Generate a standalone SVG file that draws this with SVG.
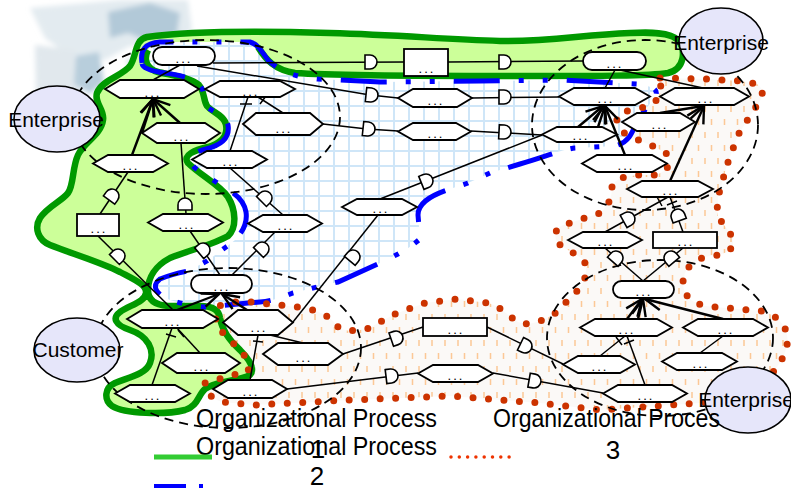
<svg xmlns="http://www.w3.org/2000/svg" width="791" height="489" viewBox="0 0 791 489">
<style>
.n{fill:#fff;stroke:#000;stroke-width:1.8}
.c{fill:none;stroke:#000;stroke-width:1.5}
.a{fill:none;stroke:#000;stroke-width:2.4;marker-end:url(#arr)}
.g{fill:#fff;stroke:#000;stroke-width:1.6}
.dl{fill:none;stroke:#000;stroke-width:1.8;stroke-dasharray:9 6}
.d{font-family:"Liberation Sans",Arial,sans-serif;font-size:13px;letter-spacing:2px;text-anchor:middle;fill:#000}
.ent{fill:#e6e6fa;stroke:#000;stroke-width:1.6}
.lbl{font-family:"Liberation Sans",Arial,sans-serif;font-size:21px;text-anchor:middle;fill:#000}
.lg{font-family:"Liberation Sans",Arial,sans-serif;font-size:26px;fill:#000}
</style>
<defs>
<pattern id="grid" x="3" y="0" width="15" height="15" patternUnits="userSpaceOnUse">
<rect width="15" height="15" fill="#fff"/>
<path d="M0,1 H15 M1,0 V15" stroke="#cfe6f8" stroke-width="2"/>
</pattern>
<pattern id="vdash" width="13" height="26" patternUnits="userSpaceOnUse">
<rect width="13" height="26" fill="#fbf9f7"/>
<path d="M3,2 V8 M9.5,15 V21" stroke="#fcc896" stroke-width="1.5"/>
</pattern>
<filter id="haze" x="-20%" y="-20%" width="140%" height="140%"><feGaussianBlur stdDeviation="2.5"/></filter>
<marker id="arr" markerUnits="userSpaceOnUse" markerWidth="22" markerHeight="20" viewBox="-20 -10 22 20" refX="0" refY="0" orient="auto">
<path d="M-17,-7 L0,0 L-17,7" fill="none" stroke="#000" stroke-width="2.4"/>
</marker>
<path id="gate" d="M-5,-7 H0 A7,7 0 0 1 0,7 H-5 Z"/>
<path id="p2" d="M142,63 C140,50 145,43 160,42 L250,42 C258,44 262,52 268,60 C278,70 292,77 318,79 L380,82 L480,81 L560,80 L637,84 C650,86 658,88 656,95 C653,102 645,108 638,120 C632,132 630,142 615,146 L575,148 C560,150 545,157 520,164 L490,173 L468,183 L447,190 C430,196 418,203 418,215 L420,239 C412,246 405,250 398,254 L380,263 L338,282 L317,287 L293,293 C280,298 272,301 260,302 L205,307 C190,306 175,302 165,298 C155,292 152,285 160,279 C170,275 178,273 188,271 L207,261 L226,247 C240,238 248,225 246,212 C244,200 235,193 222,186 L195,168 C186,160 192,152 206,149 C222,145 230,137 228,125 C226,115 212,112 206,106 C202,100 206,92 200,86 C193,78 180,75 165,73 C150,71 142,68 142,63 Z"/>
<path id="p3" d="M660,78 L707,79 L740,81 L757,84 C766,90 762,100 755,108 L738,135 L727,165 L718,197 L717,212 C718,222 732,230 733,242 C733,252 722,255 710,256 C695,258 684,268 683,282 C683,298 695,306 715,307 L762,311 C780,316 790,330 787,345 C784,360 775,372 760,385 C745,396 725,400 700,403 L600,410 L540,403 L450,396 L350,400 L254,405 L222,402 C210,398 204,390 205,383 L233,375 L248,372 C250,362 245,355 237,347 L225,335 C215,325 213,315 218,307 C225,302 240,301 250,302 L298,307 C315,309 330,315 338,327 C345,333 360,330 367,329 L395,314 L425,303 L457,299 L488,303 C500,306 508,316 518,322 C530,327 545,320 557,312 L568,300 L580,288 C587,278 588,265 583,260 C575,252 560,248 556,240 C553,230 560,225 570,223 L600,213 C610,205 612,195 612,187 C615,178 625,176 640,175 L655,175 C668,172 672,162 668,155 C660,148 645,143 627,135 C617,128 614,118 620,113 C630,110 645,108 652,104 C660,99 662,88 660,78 Z"/>
<path id="p1edge" d="M258,47 C266,60 275,70 295,73 C340,76 420,76 520,76 C600,76 650,76 668,73 C685,69 686,50 678,40 C670,32 650,32 630,33 C580,35 550,42 500,41 C440,39 400,35 330,33 C260,31 190,31 147,37 C134,40 137,56 130,66 C122,76 102,80 97,93 C94,103 105,110 103,120 C101,135 84,142 78,155 C72,168 74,185 68,193 C62,201 48,206 40,218 C34,228 38,240 50,245 C70,253 100,262 120,272 C135,280 147,285 146,293 C145,302 130,305 120,312 C112,318 115,325 130,330 C148,336 155,350 150,363 C146,374 130,377 115,383 C104,388 104,400 112,406 C125,414 165,415 185,410 C198,406 198,395 205,389 C215,381 240,381 250,375 C256,368 248,358 240,350 C230,341 222,330 220,318 C219,310 212,306 200,306 L168,306 C155,305 148,300 148,290 C148,278 155,266 170,258 C190,250 215,244 228,236 C237,228 236,210 228,197 C220,185 200,175 188,163 C182,155 195,150 208,147 C222,143 228,135 226,125 C225,116 212,112 207,106 C203,100 205,92 199,85 C190,77 170,75 158,72 C147,69 143,60 148,50"/>
</defs>

<!-- faded globe backdrop -->
<g id="backdrop" filter="url(#haze)">
<path d="M30,8 L120,0 L188,0 L192,30 L165,50 L130,46 L105,60 L70,56 L45,38 Z" fill="#e3ebf0"/>
<path d="M35,45 L75,50 L82,105 L60,112 L36,92 Z" fill="#e1e8ed"/>
<path d="M108,12 L150,3 L180,13 L176,38 L150,42 L128,33 L110,38 Z" fill="#b2c9d8"/>
<path d="M76,56 L99,52 L104,82 L90,94 L74,84 Z" fill="#b8cedc"/>
<path d="M78,116 L122,108 L144,122 L134,146 L95,150 L76,136 Z" fill="#bfd3df"/>
<path d="M125,60 L160,55 L170,75 L140,82 Z" fill="#d6e2ea"/>
</g>

<!-- process regions -->
<g id="region-3"><use href="#p3" fill="url(#vdash)"/></g>
<g id="region-2"><use href="#p2" fill="url(#grid)"/></g>
<g id="region-1">
<path d="M258,47 C266,60 275,70 295,73 C340,76 420,76 520,76 C600,76 650,76 668,73 C685,69 686,50 678,40 C670,32 650,32 630,33 C580,35 550,42 500,41 C440,39 400,35 330,33 C260,31 190,31 147,37 C134,40 137,56 130,66 C122,76 102,80 97,93 C94,103 105,110 103,120 C101,135 84,142 78,155 C72,168 74,185 68,193 C62,201 48,206 40,218 C34,228 38,240 50,245 C70,253 100,262 120,272 C135,280 147,285 146,293 C145,302 130,305 120,312 C112,318 115,325 130,330 C148,336 155,350 150,363 C146,374 130,377 115,383 C104,388 104,400 112,406 C125,414 165,415 185,410 C198,406 198,395 205,389 C215,381 240,381 250,375 C256,368 248,358 240,350 C230,341 222,330 220,318 C219,310 212,306 200,306 L168,306 C155,305 148,300 148,290 C148,278 155,266 170,258 C190,250 215,244 228,236 C237,228 236,210 228,197 C220,185 200,175 188,163 C182,155 195,150 208,147 C222,143 228,135 226,125 C225,116 212,112 207,106 C203,100 205,92 199,85 C190,77 170,75 158,72 C147,69 143,60 148,50 C152,44 160,42 175,42 L250,42 C253,43 256,45 258,47 Z" fill="#ccff99"/>
<use href="#p1edge" fill="none" stroke="#009900" stroke-width="6.5" stroke-linejoin="round"/>
</g>
<g id="region-outlines">
<use href="#p2" fill="none" stroke="#0000ff" stroke-width="5" stroke-dasharray="46 19 5 19 5 19"/>
<use href="#p3" fill="none" stroke="#cc3300" stroke-width="7" stroke-linecap="round" stroke-dasharray="0 15.5"/>
</g>

<!-- enterprise boundaries -->
<g id="boundaries">
<ellipse class="dl" cx="206" cy="117" rx="134" ry="77"/>
<ellipse class="dl" cx="645" cy="125" rx="113" ry="85"/>
<ellipse class="dl" cx="228" cy="348" rx="133" ry="80"/>
<ellipse class="dl" cx="660" cy="338" rx="113" ry="78"/>
</g>

<g id="connectors">
<path class="c" d="M213,63 L404,62"/>
<path class="c" d="M448,62 L583,61"/>
<path class="c" d="M180,65 L153,80"/>
<path class="c" d="M197,66 L370,95 L398,98"/>
<path class="c" d="M615,70 L605,88"/>
<path class="c" d="M620,70 L703,88"/>
<path class="c" d="M472,98 L559,97"/>
<path class="c" d="M471,131 L542,135"/>
<path class="c" d="M323,124 L367,129 L398,131"/>
<path class="c" d="M380,199 L542,135"/>
<path class="c" d="M248,97 L230,151"/>
<path class="c" d="M258,97 L283,113"/>
<path class="c" d="M181,143 L186,214"/>
<path class="c" d="M128,172 L100,214"/>
<path class="c" d="M98,236 L173,310"/>
<path class="c" d="M190,231 L220,275"/>
<path class="c" d="M230,168 L283,215"/>
<path class="c" d="M275,232 L232,275"/>
<path class="c" d="M378,215 L293,322"/>
<path class="c" d="M172,328 L152,385"/>
<path class="c" d="M177,328 L200,353"/>
<path class="c" d="M258,335 L250,380"/>
<path class="c" d="M270,335 L303,343"/>
<path class="c" d="M343,354 L423,327"/>
<path class="c" d="M287,389 L418,373"/>
<path class="c" d="M487,327 L563,364"/>
<path class="c" d="M493,373 L603,393"/>
<path class="c" d="M625,336 L600,356"/>
<path class="c" d="M627,336 L645,385"/>
<path class="c" d="M723,336 L700,353"/>
<path class="c" d="M605,248 L643,281"/>
<path class="c" d="M683,248 L643,281"/>
<path class="c" d="M668,197 L605,232"/>
<path class="c" d="M670,197 L683,232"/>
<path class="a" d="M132,155 L153,99"/>
<path class="a" d="M142,133 L153,99"/>
<path class="a" d="M180,123 L153,99"/>
<path class="a" d="M177,310 L219,294"/>
<path class="a" d="M247,310 L222,294"/>
<path class="a" d="M627,319 L642,299"/>
<path class="a" d="M638,319 L643,299"/>
<path class="a" d="M723,319 L645,299"/>
<path class="a" d="M670,181 L704,106"/>
<path class="a" d="M660,113 L703,106"/>
<path class="a" d="M578,127 L603,106"/>
<path class="a" d="M598,127 L605,106"/>
<path class="a" d="M625,155 L605,106"/>
<!-- cardinality ticks near the source ends -->
<path class="c" d="M240,104 L252,104 M260,104 L266,96 M657,197 L662,206 M667,205 L677,201 M616,337 L622,345 M624,344 L634,340 M166,334 L176,337 M178,330 L184,337 M253,341 L263,342"/>
</g>

<g id="gates">
<use href="#gate" class="g" transform="translate(370,62)"/>
<use href="#gate" class="g" transform="translate(504,62)"/>
<use href="#gate" class="g" transform="translate(371,95) rotate(6)"/>
<use href="#gate" class="g" transform="translate(504,97)"/>
<use href="#gate" class="g" transform="translate(504,132) rotate(3)"/>
<use href="#gate" class="g" transform="translate(368,129) rotate(6)"/>
<use href="#gate" class="g" transform="translate(426,181) rotate(-22)"/>
<use href="#gate" class="g" transform="translate(185,205) rotate(-90)"/>
<use href="#gate" class="g" transform="translate(112,196) rotate(-54)"/>
<use href="#gate" class="g" transform="translate(118,256) rotate(-45)"/>
<use href="#gate" class="g" transform="translate(203,250) rotate(-40)"/>
<use href="#gate" class="g" transform="translate(265,198) rotate(-45)"/>
<use href="#gate" class="g" transform="translate(262,249) rotate(-45)"/>
<use href="#gate" class="g" transform="translate(353,257) rotate(-50)"/>
<use href="#gate" class="g" transform="translate(396,338) rotate(-19)"/>
<use href="#gate" class="g" transform="translate(391,376) rotate(-7)"/>
<use href="#gate" class="g" transform="translate(525,346) rotate(26)"/>
<use href="#gate" class="g" transform="translate(534,381) rotate(10)"/>
<use href="#gate" class="g" transform="translate(616,258) rotate(-49)"/>
<use href="#gate" class="g" transform="translate(671,258) rotate(-130)"/>
<use href="#gate" class="g" transform="translate(628,219) rotate(-29)"/>
<use href="#gate" class="g" transform="translate(678,216) rotate(-110)"/>
</g>

<g id="nodes">
<g id="capA"><rect class="n" x="153" y="47" width="62" height="18" rx="9"/><text class="d" x="184" y="63">...</text></g>
<g id="rectB"><rect class="n" x="404" y="49" width="44" height="27"/><text class="d" x="427" y="73">...</text></g>
<g id="capC"><rect class="n" x="583" y="52" width="63" height="18" rx="9"/><text class="d" x="615" y="68">...</text></g>
<g id="h1"><polygon class="n" points="105,89 120,80 184,80 199,89 184,98 120,98"/><text class="d" x="153" y="97">...</text></g>
<g id="h2"><polygon class="n" points="205,89 220,81 280,81 295,89 280,97 220,97"/><text class="d" x="251" y="96">...</text></g>
<g id="h3"><polygon class="n" points="398,98 413,89 457,89 472,98 457,107 413,107"/><text class="d" x="436" y="105">...</text></g>
<g id="h4"><polygon class="n" points="243,124 256,113 310,113 323,124 310,135 256,135"/><text class="d" x="284" y="133">...</text></g>
<g id="h5"><polygon class="n" points="398,131.5 413,123 456,123 471,131.5 456,140 413,140"/><text class="d" x="436" y="138">...</text></g>
<g id="h6"><polygon class="n" points="142,133 157,123 205,123 220,133 205,143 157,143"/><text class="d" x="182" y="141">...</text></g>
<g id="h7"><polygon class="n" points="93,163.5 108,155 153,155 168,163.5 153,172 108,172"/><text class="d" x="131" y="170">...</text></g>
<g id="h8"><polygon class="n" points="192,159.5 207,151 252,151 267,159.5 252,168 207,168"/><text class="d" x="231" y="166">...</text></g>
<g id="r1"><rect class="n" x="77" y="214" width="42" height="22"/><text class="d" x="99" y="233">...</text></g>
<g id="h10"><polygon class="n" points="148,222.5 163,214 208,214 223,222.5 208,231 163,231"/><text class="d" x="187" y="229">...</text></g>
<g id="h11"><polygon class="n" points="248,223.5 263,215 307,215 322,223.5 307,232 263,232"/><text class="d" x="286" y="230">...</text></g>
<g id="hmid"><polygon class="n" points="342,207 357,199 402,199 417,207 402,215 357,215"/><text class="d" x="381" y="213">...</text></g>
<g id="capD"><rect class="n" x="191" y="275" width="61" height="18" rx="9"/><text class="d" x="222" y="291">...</text></g>
<g id="hbl1"><polygon class="n" points="127,319 142,310 203,310 218,319 203,328 142,328"/><text class="d" x="173" y="326">...</text></g>
<g id="hbl2"><polygon class="n" points="223,322.5 238,310 278,310 293,322.5 278,335 238,335"/><text class="d" x="259" y="332">...</text></g>
<g id="hbl3"><polygon class="n" points="162,363 177,353 225,353 240,363 225,373 177,373"/><text class="d" x="202" y="371">...</text></g>
<g id="hbl4"><polygon class="n" points="263,354 278,343 328,343 343,354 328,365 278,365"/><text class="d" x="304" y="362">...</text></g>
<g id="hbl5"><polygon class="n" points="115,393.5 130,385 175,385 190,393.5 175,402 130,402"/><text class="d" x="153" y="400">...</text></g>
<g id="hbl6"><polygon class="n" points="213,389 228,380 272,380 287,389 272,398 228,398"/><text class="d" x="251" y="396">...</text></g>
<g id="r2"><rect class="n" x="423" y="318" width="64" height="18"/><text class="d" x="456" y="334">...</text></g>
<g id="ho1"><polygon class="n" points="418,373.5 433,365 478,365 493,373.5 478,382 433,382"/><text class="d" x="456" y="380">...</text></g>
<g id="hr0"><polygon class="n" points="627,189 642,181 698,181 713,189 698,197 642,197"/><text class="d" x="671" y="195">...</text></g>
<g id="hr1"><polygon class="n" points="568,240 583,232 627,232 642,240 627,248 583,248"/><text class="d" x="606" y="246">...</text></g>
<g id="r3"><rect class="n" x="653" y="232" width="64" height="16"/><text class="d" x="686" y="246">...</text></g>
<g id="capE"><rect class="n" x="613" y="281" width="61" height="17" rx="8.5"/><text class="d" x="644" y="296">...</text></g>
<g id="hbr1"><polygon class="n" points="580,327.5 595,319 657,319 672,327.5 657,336 595,336"/><text class="d" x="627" y="334">...</text></g>
<g id="hbr2"><polygon class="n" points="683,327.5 698,319 753,319 768,327.5 753,336 698,336"/><text class="d" x="726" y="334">...</text></g>
<g id="hbr3"><polygon class="n" points="563,364.5 578,356 620,356 635,364.5 620,373 578,373"/><text class="d" x="600" y="371">...</text></g>
<g id="hbr4"><polygon class="n" points="662,361.5 677,353 722,353 737,361.5 722,370 677,370"/><text class="d" x="701" y="368">...</text></g>
<g id="hbr5"><polygon class="n" points="603,393.5 618,385 672,385 687,393.5 672,402 618,402"/><text class="d" x="646" y="400">...</text></g>
<g id="htr1"><polygon class="n" points="559,96.5 574,88 635,88 650,96.5 635,105 574,105"/><text class="d" x="606" y="103">...</text></g>
<g id="htr2"><polygon class="n" points="660,96.5 675,88 734,88 749,96.5 734,105 675,105"/><text class="d" x="706" y="103">...</text></g>
<g id="htr3"><polygon class="n" points="622,122 637,113 680,113 695,122 680,131 637,131"/><text class="d" x="660" y="129">...</text></g>
<g id="htr4"><polygon class="n" points="542,134.5 557,127 602,127 617,134.5 602,142 557,142"/><text class="d" x="581" y="140">...</text></g>
<g id="htr5"><polygon class="n" points="582,163.5 597,155 652,155 667,163.5 652,172 597,172"/><text class="d" x="626" y="170">...</text></g>
</g>

<g id="parties">
<g id="ent-left"><ellipse class="ent" cx="57" cy="119" rx="43" ry="33"/><text class="lbl" x="56" y="127">Enterprise</text></g>
<g id="ent-top"><ellipse class="ent" cx="721" cy="41" rx="42" ry="33"/><text class="lbl" x="721" y="50">Enterprise</text></g>
<g id="customer"><ellipse class="ent" cx="77" cy="350" rx="43" ry="32"/><text class="lbl" x="78" y="357">Customer</text></g>
<g id="ent-bottom"><ellipse class="ent" cx="748" cy="400" rx="43" ry="33"/><text class="lbl" x="746" y="407">Enterprise</text></g>
</g>

<g id="legend">
<text class="lg" x="196" y="427" textLength="241" lengthAdjust="spacingAndGlyphs">Organizational Process</text>
<text class="lg" x="196" y="455" textLength="241" lengthAdjust="spacingAndGlyphs">Organizational Process</text>
<text class="lg" x="318" y="458" text-anchor="middle">1</text>
<text class="lg" x="317" y="485" text-anchor="middle">2</text>
<text class="lg" x="493" y="427" textLength="227" lengthAdjust="spacingAndGlyphs">Organizational Proces</text>
<text class="lg" x="613" y="459" text-anchor="middle">3</text>
<path d="M154,457 H212" stroke="#33cc33" stroke-width="5"/>
<path d="M154,486 H186 M199,486 H203" stroke="#0000ff" stroke-width="4"/>
<path d="M451,457 H510" stroke="#ee3300" stroke-width="3.5" stroke-linecap="round" stroke-dasharray="0 8.3"/>
</g>
</svg>
